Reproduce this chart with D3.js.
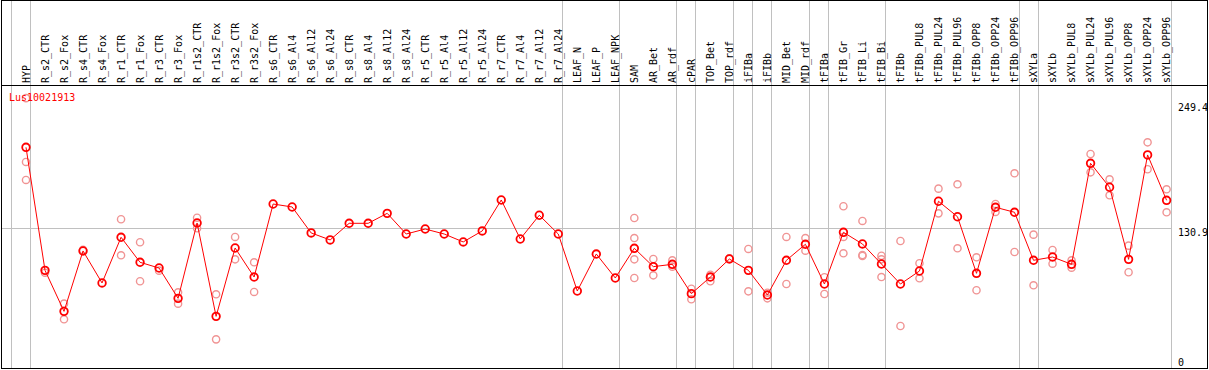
<!DOCTYPE html>
<html><head><meta charset="utf-8">
<script src="https://cdn.jsdelivr.net/npm/d3@7"></script>
<style>
html,body{margin:0;padding:0;background:#fff;}
svg{display:block;}
text{font-family:"DejaVu Sans Mono",monospace;font-size:10px;}
</style></head>
<body>
<svg id="chart" width="1209" height="370"></svg>
<script>
const geneName = "Lus10021913";
const categories = ["HYP","R_s2_CTR","R_s2_Fox","R_s4_CTR","R_s4_Fox","R_r1_CTR","R_r1_Fox","R_r3_CTR","R_r3_Fox","R_r1s2_CTR","R_r1s2_Fox","R_r3s2_CTR","R_r3s2_Fox","R_s6_CTR","R_s6_Al4","R_s6_Al12","R_s6_Al24","R_s8_CTR","R_s8_Al4","R_s8_Al12","R_s8_Al24","R_r5_CTR","R_r5_Al4","R_r5_Al12","R_r5_Al24","R_r7_CTR","R_r7_Al4","R_r7_Al12","R_r7_Al24","LEAF_N","LEAF_P","LEAF_NPK","SAM","AR_Bet","AR_rdf","cPAR","TOP_Bet","TOP_rdf","iFIBa","iFIBb","MID_Bet","MID_rdf","tFIBa","tFIB_Gr","tFIB_Li","tFIB_Bi","tFIBb","tFIBb_PUL8","tFIBb_PUL24","tFIBb_PUL96","tFIBb_OPP8","tFIBb_OPP24","tFIBb_OPP96","sXYLa","sXYLb","sXYLb_PUL8","sXYLb_PUL24","sXYLb_PUL96","sXYLb_OPP8","sXYLb_OPP24","sXYLb_OPP96"];
const meanValues = [207.3,91.2,52.5,109.5,79.3,122.4,98.8,93.4,64.8,135.9,47.8,112.3,84.9,153.8,151,126.5,119.9,135.6,135.6,145,125.5,130.2,125.5,118,128.4,157.6,120.8,143.2,125.5,71.7,106.6,84,112,94.7,96.9,69.2,84.9,101.9,91.2,67.9,100.7,115.8,78.3,127.1,116.1,97.2,78.3,90.6,156.4,141.8,88.4,150.7,146,100.7,103.8,96.9,192.2,169.6,101.6,200.1,157.3];
const replicateValues = [[253.7,193.5,176.5],[89],[59.8,45],[110.5],[],[139.4,105.4],[117.7,80.9],[90.9],[70.5,59.8],[140.9,130.9],[68.6,26.1],[122.7,101.6],[98.8,70.8],[],[],[],[],[],[],[],[],[],[],[],[],[],[],[],[],[],[],[],[140.6,121.7,101.6,84],[101.9,86.5],[100.7,94.7],[73.9,63.9],[87.1,80.9],[102.5],[111.4,71.4],[70.1,64.8],[122.7,78.3],[121.7,109.8],[84.7,68.9],[151.7,122.7,107.3],[137.8,105.7,104.8],[105,101.6,84.9],[118.9,38.7],[97.9,83.7],[168.3,145],[172.4,112],[103.5,72.4],[153.8,146.3],[182.8,108.5],[124.9,77.1],[110.4,97.5],[100.7,93.7],[201,183.7],[177.1,162],[114.5,89.4],[212,186.6],[167.7,146]];
const groupEnds = ["HYP","R_r7_Al24","LEAF_NPK","AR_rdf","cPAR","TOP_rdf","iFIBa","iFIBb","MID_rdf","tFIBa","tFIB_Bi","tFIBb_OPP96","sXYLa","sXYLb_OPP96"];
const yTicks = [0, 130.9, 249.4];
const yTickLabels = ["0","130.9","249.4"];

const svg = d3.select("#chart");
const W = 1209, H = 370;
const x = d3.scalePoint().domain(categories).range([26, 1166.6]);
const step = x.step();
const y = d3.scaleLinear().domain([0, 249.4]).range([367, 102.7]);

// vertical group separators
const sepX = [x(categories[0]) - step + 4].concat(groupEnds.map(c => x(c) + 4));
svg.append("g").selectAll("line").data(sepX).join("line")
  .attr("x1", d => Math.round(d) + 0.5).attr("x2", d => Math.round(d) + 0.5)
  .attr("y1", 0).attr("y2", 368)
  .attr("stroke", "#c0c0c0").attr("stroke-width", 1);

// horizontal grid at middle tick
svg.append("line")
  .attr("x1", 1).attr("x2", Math.round(x(categories[categories.length-1]) + 4) + 0.5)
  .attr("y1", Math.round(y(yTicks[1])) + 0.5).attr("y2", Math.round(y(yTicks[1])) + 0.5)
  .attr("stroke", "#c0c0c0").attr("stroke-width", 1);

// header separator
svg.append("line").attr("x1", 1).attr("x2", 1208).attr("y1", 85.5).attr("y2", 85.5)
  .attr("stroke", "#000").attr("stroke-width", 1);

// category labels
svg.append("g").selectAll("text").data(categories).join("text")
  .attr("transform", d => `translate(${x(d) + 3.5},83) rotate(-90)`)
  .attr("text-anchor", "start").attr("fill", "#000")
  .text(d => d);

// right axis labels
const yLabelPos = [366, 236, 111];
svg.append("g").selectAll("text").data(yTicks).join("text")
  .attr("x", 1178).attr("y", (d, i) => i === 0 ? 366 : (i === 1 ? y(d) + 8 : y(d) + 8))
  .attr("fill", "#000").text((d, i) => yTickLabels[i]);

// replicates
const reps = [];
categories.forEach((c, i) => replicateValues[i].forEach(v => reps.push({c, v})));
svg.append("g").selectAll("circle").data(reps).join("circle")
  .attr("cx", d => x(d.c)).attr("cy", d => y(d.v)).attr("r", 3.6)
  .attr("fill", "none").attr("stroke", "#f09494").attr("stroke-width", 1.4);

// gene label
svg.append("text").attr("x", 9).attr("y", 101).attr("fill", "#ff0000").text(geneName);

// mean line
const line = d3.line().x((d, i) => x(categories[i])).y(d => y(d));
svg.append("path").datum(meanValues).attr("d", line)
  .attr("fill", "none").attr("stroke", "#ff0000").attr("stroke-width", 1);

svg.append("g").selectAll("circle").data(meanValues).join("circle")
  .attr("cx", (d, i) => x(categories[i])).attr("cy", d => y(d)).attr("r", 3.8)
  .attr("fill", "none").attr("stroke", "#ff0000").attr("stroke-width", 1.8);

// border
svg.append("rect").attr("x", 1.5).attr("y", 0.5).attr("width", 1206).attr("height", 368)
  .attr("fill", "none").attr("stroke", "#000").attr("stroke-width", 1);
</script>
</body></html>
